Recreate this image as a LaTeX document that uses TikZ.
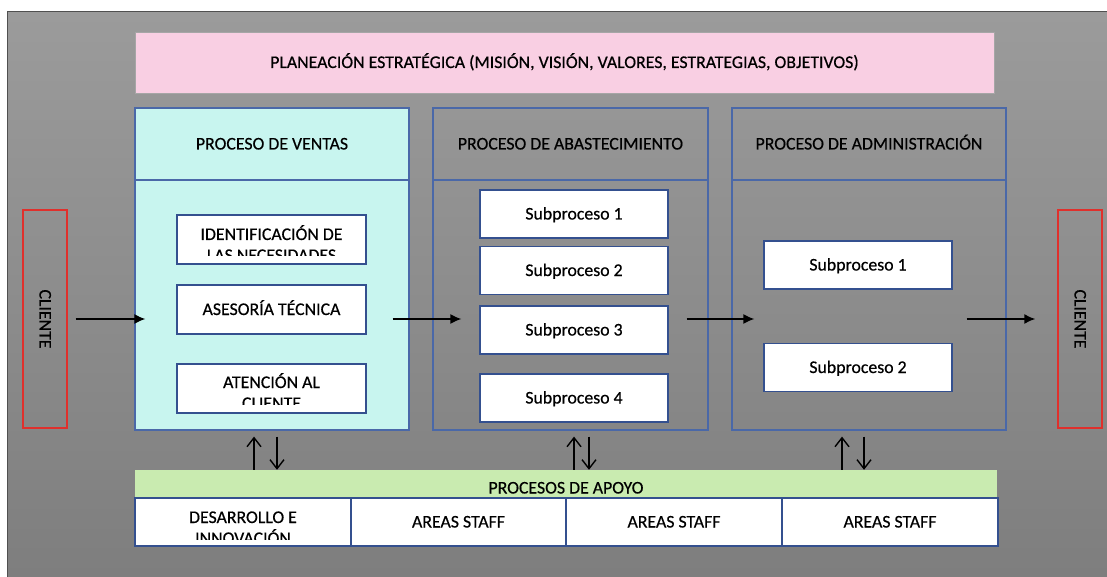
\documentclass[tikz,border=0pt]{standalone}
\usepackage{fontspec}
\setmainfont{Carlito}[FakeBold=0.5]
\usetikzlibrary{arrows.meta}

\definecolor{bgtop}{HTML}{9B9B9B}
\definecolor{bgbot}{HTML}{7E7E7E}
\definecolor{framegray}{HTML}{505050}
\definecolor{planpink}{HTML}{F9CFE3}
\definecolor{ventcyan}{HTML}{C8F5EF}
\definecolor{apogreen}{HTML}{C9EBB0}
\definecolor{procblue}{HTML}{4A68A8}
\definecolor{subblue}{HTML}{34508F}
\definecolor{clired}{HTML}{E0302C}

\begin{document}
\begin{tikzpicture}[x=1pt, y=-1pt, font=\fontsize{17.8}{21}\selectfont,
  txt/.style={text height=11pt, text depth=0pt, inner sep=0pt},
  proc/.style={txt, draw=procblue, line width=1.2pt, minimum width=274pt},
  sub/.style={txt, draw=subblue, line width=1.6pt, fill=white, minimum width=189pt, minimum height=49pt},
  cli/.style={txt, draw=clired, line width=1.4pt, rotate=-90, minimum width=218pt, minimum height=44pt},
  cell/.style={txt, draw=subblue, line width=1.4pt, fill=white, minimum width=216pt, minimum height=48pt},
  flow/.style={-{Latex[length=11pt,width=10pt]}, line width=1.6pt},
  vup/.style={-{Straight Barb[length=9pt,width=14pt]}, line width=1.4pt}
]
\useasboundingbox[fill=white] (0,0) rectangle (1107,577);
% gray frame
\shade[top color=bgtop, bottom color=bgbot] (7,12) rectangle (1107,577);
\draw[framegray, line width=1pt] (7,577) -- (7,12) -- (1107,12);

% strategic planning on top
\node[txt, draw=gray!70, fill=planpink, minimum width=859pt, minimum height=61pt] (plan) at (564.5,62.5)
  {PLANEACIÓN ESTRATÉGICA (MISIÓN, VISIÓN, VALORES, ESTRATEGIAS, OBJETIVOS)};

% the three processes
\node[proc, fill=ventcyan, minimum height=72pt] (ventH) at (272,144) {PROCESO DE VENTAS};
\node[proc, fill=ventcyan, minimum height=250pt] (ventB) at (272,305) {};
\node[proc, minimum width=275pt, minimum height=72pt] (abH) at (570.5,144) {PROCESO DE ABASTECIMIENTO};
\node[proc, minimum width=275pt, minimum height=250pt] (abB) at (570.5,305) {};
\node[proc, minimum height=72pt] (adH) at (869,144) {PROCESO DE ADMINISTRACIÓN};
\node[proc, minimum height=250pt] (adB) at (869,305) {};

% sales steps (texts cut by their boxes)
\node[sub] (ident) at (271.5,239.5) {};
\begin{scope}
  \clip (ident.north west) rectangle ([yshift=9pt]ident.south east);
  \node[anchor=base] (identA) at (271.5,240) {IDENTIFICACIÓN DE};
  \node[anchor=base] (identB) at (271.5,261) {LAS NECESIDADES};
\end{scope}
\node[sub] (asesor) at (271.5,309.5) {ASESORÍA TÉCNICA};
\node[sub] (atenc) at (271.5,388.5) {};
\begin{scope}
  \clip (atenc.north west) rectangle ([yshift=9pt]atenc.south east);
  \node[anchor=base] (atencA) at (271.5,388) {ATENCIÓN AL};
  \node[anchor=base] (atencB) at (271.5,409) {CLIENTE};
\end{scope}

% supply subprocesses
\node[sub, minimum width=188pt, minimum height=48pt] (ab1) at (574,214) {Subproceso 1};
\node[sub, minimum width=188pt, minimum height=48pt] (ab2) at (574,270.5) {Subproceso 2};
\node[sub, minimum width=188pt, minimum height=48pt] (ab3) at (574,330) {Subproceso 3};
\node[sub, minimum width=188pt, minimum height=48pt] (ab4) at (574,398) {Subproceso 4};

% administration subprocesses
\node[sub, minimum width=188pt, minimum height=48pt] (ad1) at (858,265) {Subproceso 1};
\node[sub, minimum width=188pt, minimum height=48pt] (ad2) at (858,367.5) {Subproceso 2};

% customers at both ends
\node[cli] (cliL) at (45,319) {CLIENTE};
\node[cli] (cliR) at (1080,319) {CLIENTE};

% main flow
\draw[flow] ([xshift=8pt]cliL.north) -- ([xshift=11pt]cliL.center -| ventB.west);
\draw[flow] ([xshift=-17pt]cliL.center -| ventB.east) -- ([xshift=29pt]cliL.center -| abB.west);
\draw[flow] ([xshift=-22pt]cliL.center -| abB.east) -- ([xshift=23pt]cliL.center -| adB.west);
\draw[flow] ([xshift=-40pt]cliL.center -| adB.east) -- ([xshift=-22pt]cliR.south);

% support processes
\node[txt, fill=apogreen, minimum width=862pt, minimum height=28pt] (apoyo) at (566,484) {};
\node[anchor=base] (apoyoT) at (566,493.5) {PROCESOS DE APOYO};
\node[cell] (desa) at (243,522) {};
\begin{scope}
  \clip (desa.north west) rectangle ([yshift=7pt]desa.south east);
  \node[anchor=base] (desaA) at (243,523) {DESARROLLO E};
  \node[anchor=base] (desaB) at (243,544) {INNOVACIÓN};
\end{scope}
\node[cell, minimum width=215pt] (staff1) at (458.5,522) {AREAS STAFF};
\node[cell] (staff2) at (674,522) {AREAS STAFF};
\node[cell] (staff3) at (890,522) {AREAS STAFF};

% links between processes and support
\draw[vup] ([xshift=-18pt]ventB.south |- apoyo.north) -- ([xshift=-18pt,yshift=-6pt]ventB.south);
\draw[vup] ([xshift=5pt,yshift=-6pt]ventB.south) -- ([xshift=5pt]ventB.south |- apoyo.north);
\draw[vup] ([xshift=3.5pt]abB.south |- apoyo.north) -- ([xshift=3.5pt,yshift=-6pt]abB.south);
\draw[vup] ([xshift=18.5pt,yshift=-6pt]abB.south) -- ([xshift=18.5pt]abB.south |- apoyo.north);
\draw[vup] ([xshift=-27pt]adB.south |- apoyo.north) -- ([xshift=-27pt,yshift=-6pt]adB.south);
\draw[vup] ([xshift=-5pt,yshift=-6pt]adB.south) -- ([xshift=-5pt]adB.south |- apoyo.north);
\end{tikzpicture}
\end{document}
